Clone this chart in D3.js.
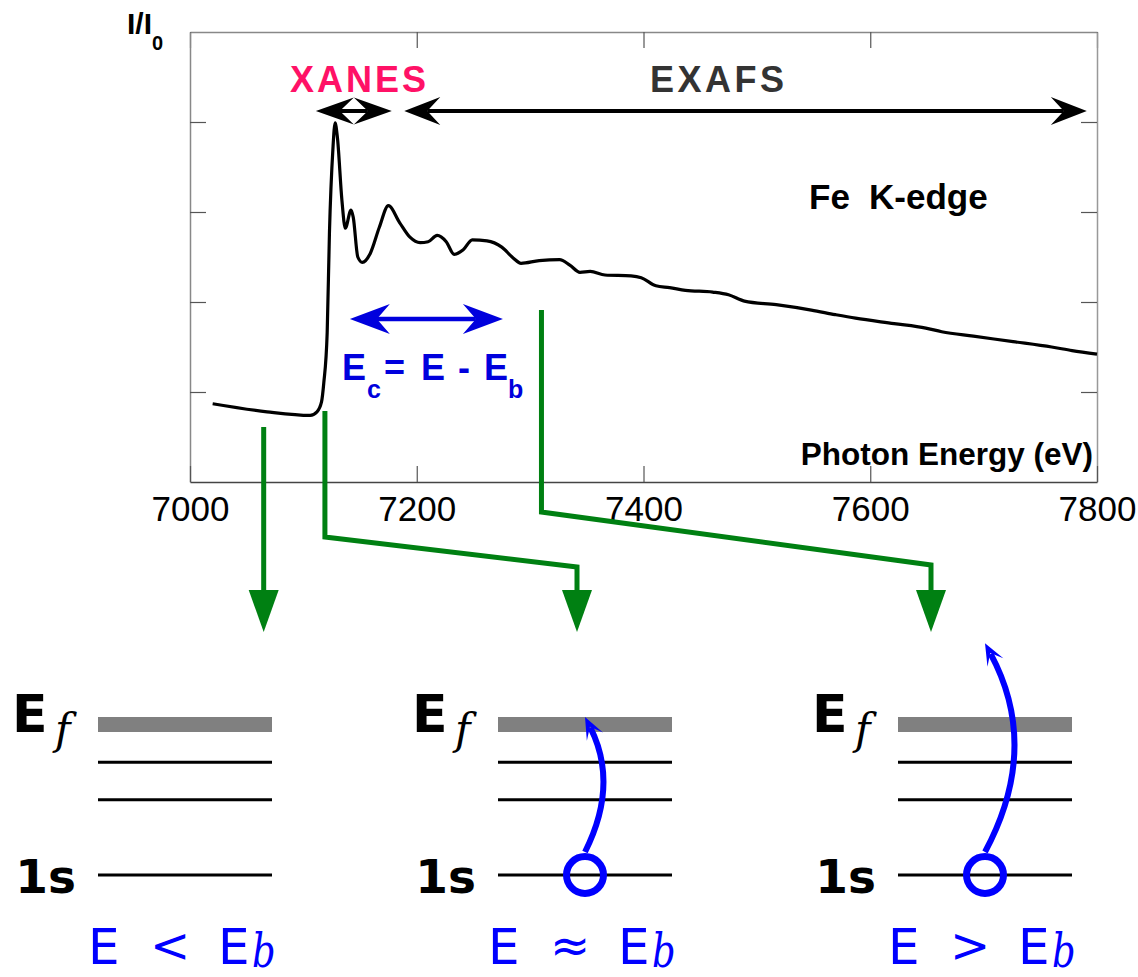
<!DOCTYPE html>
<html>
<head>
<meta charset="utf-8">
<script src="https://cdn.jsdelivr.net/npm/d3@7"></script>
<style>
  body { margin: 0; background: #fff; }
  svg { display: block; }
</style>
</head>
<body>
<script>
// Fe K-edge absorption spectrum
const energy = [7020,7068,7106,7112,7116,7118,7121,7123,7126,7128,7130,7134,7137,7142,7144,
  7148,7152,7159,7167,7175,7185,7194,7203,7210,7218,7226,7233,7241,7249,7262,
  7275,7285,7292,7308,7326,7335,7344,7353,7366,7389,7398,7411,7423,7437,7461,
  7475,7489,7517,7548,7569,7587,7621,7649,7663,7691,7726,7760,7778,7800];
const intensity = [0.87,0.78,0.74,0.78,0.89,1.10,1.66,2.77,3.69,3.99,3.83,3.13,2.82,3.02,2.94,
  2.50,2.44,2.54,2.83,3.07,2.88,2.72,2.66,2.67,2.74,2.67,2.53,2.58,2.69,2.68,
  2.61,2.49,2.43,2.46,2.47,2.41,2.33,2.34,2.30,2.29,2.27,2.18,2.16,2.13,2.11,
  2.08,2.01,1.97,1.91,1.86,1.82,1.76,1.71,1.67,1.62,1.56,1.50,1.46,1.42];
const xTicks = [7000, 7200, 7400, 7600, 7800];
const yTicks = [1, 2, 3, 4];

// annotation ranges (eV)
const xanesRange = [7111, 7178];
const exafsRange = [7189, 7791];
const ecRange = [7141, 7276];
const markEnergy = [7065, 7119, 7310];

// energy level diagrams (relative level energy, 1 = E_f)
const levels = [0, 0.5, 0.75, 1];
const relations = ["<", "\u2248", ">"];
const exciteTo = [null, 1.05, 1.54];

const W = 1138, H = 977;
const blue = "#0000ff", green = "#008012";
const sans = "'Liberation Sans', Arial, sans-serif";
const serif = "'DejaVu Serif', 'Liberation Serif', serif";

const svg = d3.select("body").append("svg")
  .attr("width", W).attr("height", H);

const x = d3.scaleLinear().domain([7000, 7800]).range([190, 1097]);
const y = d3.scaleLinear().domain([0, 5]).range([482, 32]);

// frame + ticks
function styleAxis(g, col) {
  g.select(".domain").attr("stroke", col).attr("stroke-width", 1.5);
  g.selectAll(".tick line").attr("stroke", "#555").attr("stroke-width", 1.2);
}
svg.append("g").attr("transform", "translate(0,32)")
  .call(d3.axisTop(x).tickValues(xTicks).tickSizeInner(-16).tickSizeOuter(0).tickFormat(""))
  .call(g => styleAxis(g, "#888"));
svg.append("g").attr("transform", "translate(190,0)")
  .call(d3.axisLeft(y).tickValues(yTicks).tickSizeInner(-16).tickSizeOuter(0).tickFormat(""))
  .call(g => styleAxis(g, "#888"));
svg.append("g").attr("transform", "translate(1097,0)")
  .call(d3.axisRight(y).tickValues(yTicks).tickSizeInner(-16).tickSizeOuter(0).tickFormat(""))
  .call(g => styleAxis(g, "#999"));
let xAxis = svg.append("g").attr("transform", "translate(0,482)")
  .call(d3.axisBottom(x).tickValues(xTicks).tickSizeInner(-16).tickSizeOuter(0).tickPadding(14).tickFormat(d3.format("d")))
  .call(g => styleAxis(g, "#444"));
xAxis.selectAll("text").attr("font-family", sans).attr("font-size", 35).attr("fill", "#000");

// axis titles
let yl = svg.append("text").attr("x", 127).attr("y", 34)
  .attr("font-family", sans).attr("font-weight", "bold").attr("font-size", 30);
yl.append("tspan").text("I/I");
yl.append("tspan").attr("font-size", 20).attr("dy", 16).text("0");

svg.append("text").attr("x", 1093).attr("y", 465).attr("text-anchor", "end")
  .attr("font-family", sans).attr("font-weight", "bold").attr("font-size", 31.5)
  .text("Photon Energy (eV)");

let fe = svg.append("text").attr("y", 209)
  .attr("font-family", sans).attr("font-weight", "bold").attr("font-size", 35);
fe.append("tspan").attr("x", 809).text("Fe");
fe.append("tspan").attr("x", 869).text("K-edge");

// spectrum
let line = d3.line()
  .x((d, i) => x(energy[i]))
  .y(d => y(d))
  .curve(d3.curveMonotoneX);
svg.append("path").datum(intensity)
  .attr("d", line)
  .attr("fill", "none")
  .attr("stroke", "#000")
  .attr("stroke-width", 3.2)
  .attr("stroke-linejoin", "round");

// arrow helpers
function head(tip, dir, L, Wd, N, color) {
  let tx = tip[0], ty = tip[1], dx = dir[0], dy = dir[1];
  let nx = -dy, ny = dx;
  let pts = [[tx, ty],
    [tx - L * dx + Wd * nx, ty - L * dy + Wd * ny],
    [tx - N * dx, ty - N * dy],
    [tx - L * dx - Wd * nx, ty - L * dy - Wd * ny]];
  svg.append("path").attr("d", "M" + pts.join("L") + "Z").attr("fill", color);
}
function dblArrow(x1, x2, yy, lw, L, Wd, N, color) {
  svg.append("line")
    .attr("x1", x1 + N).attr("x2", x2 - N).attr("y1", yy).attr("y2", yy)
    .attr("stroke", color).attr("stroke-width", lw);
  head([x1, yy], [-1, 0], L, Wd, N, color);
  head([x2, yy], [1, 0], L, Wd, N, color);
}

dblArrow(x(xanesRange[0]), x(xanesRange[1]), 111, 4, 38, 13.5, 24, "#000");
dblArrow(x(exafsRange[0]), x(exafsRange[1]), 111, 4, 36, 14, 23, "#000");
dblArrow(x(ecRange[0]), x(ecRange[1]), 319, 4.5, 40, 15, 27, "#0000dd");

svg.append("text").attr("x", 290).attr("y", 92)
  .attr("font-family", sans).attr("font-weight", "bold").attr("font-size", 36)
  .attr("letter-spacing", 3).attr("fill", "#ff1166").text("XANES");
svg.append("text").attr("x", 650).attr("y", 92)
  .attr("font-family", sans).attr("font-weight", "bold").attr("font-size", 36)
  .attr("letter-spacing", 3.5).attr("fill", "#333").text("EXAFS");

// E_c = E - E_b
let ec = svg.append("text").attr("y", 380)
  .attr("font-family", sans).attr("font-weight", "bold").attr("font-size", 36).attr("fill", "#0000dd");
ec.append("tspan").attr("x", 342).text("E");
ec.append("tspan").attr("x", 367).attr("y", 398).attr("font-size", 25).text("c");
ec.append("tspan").attr("x", 384).attr("y", 380).text("=");
ec.append("tspan").attr("x", 421).text("E");
ec.append("tspan").attr("x", 458).text("-");
ec.append("tspan").attr("x", 484).text("E");
ec.append("tspan").attr("x", 508).attr("y", 398).attr("font-size", 25).text("b");

// green connectors from the spectrum down to the diagrams
const connectors = [
  [[x(markEnergy[0]), 427], [x(markEnergy[0]), 600]],
  [[x(markEnergy[1]), 411], [x(markEnergy[1]), 537], [577, 567], [577, 600]],
  [[x(markEnergy[2]), 310], [x(markEnergy[2]), 512], [931, 565], [931, 600]]
];
connectors.forEach(pts => {
  svg.append("path").attr("d", d3.line()(pts))
    .attr("fill", "none").attr("stroke", green).attr("stroke-width", 5);
  let last = pts[pts.length - 1];
  head([last[0], 632], [0, 1], 42, 15, 42, green);
});

// energy level diagrams
const ly = d3.scaleLinear().domain([0, 1]).range([875, 724.5]);
relations.forEach((rel, k) => {
  let p = k * 400;
  let g = svg.append("g");
  levels.forEach(l => {
    g.append("line").attr("x1", p + 98).attr("x2", p + 272)
      .attr("y1", ly(l)).attr("y2", ly(l))
      .attr("stroke", l === 1 ? "#808080" : "#000")
      .attr("stroke-width", l === 1 ? 15 : 3);
  });
  g.append("text").attr("x", p + 12).attr("y", 732)
    .attr("font-family", "'DejaVu Sans', sans-serif").attr("font-weight", "bold")
    .attr("font-size", 52).text("E");
  g.append("text").attr("x", p + 55).attr("y", 744)
    .attr("font-family", serif).attr("font-style", "italic")
    .attr("font-size", 42).text("f");
  g.append("text").attr("x", p + 76).attr("y", 893).attr("text-anchor", "end")
    .attr("font-family", "'DejaVu Sans', sans-serif").attr("font-weight", "bold")
    .attr("font-size", 47).text("1s");

  // blue relation label
  g.append("text").attr("x", p + 88).attr("y", 964)
    .attr("font-family", "'DejaVu Sans', sans-serif").attr("font-size", 50)
    .attr("fill", blue).text("E");
  g.append("text").attr("x", p + 170).attr("y", 962).attr("text-anchor", "middle")
    .attr("font-family", "'DejaVu Sans', sans-serif").attr("font-size", 48)
    .attr("fill", blue).text(rel);
  g.append("text").attr("x", p + 218).attr("y", 964)
    .attr("font-family", "'DejaVu Sans', sans-serif").attr("font-size", 50)
    .attr("fill", blue).text("E");
  g.append("text").attr("transform", `translate(${p + 252},967) scale(0.8,1)`)
    .attr("font-family", serif).attr("font-style", "italic")
    .attr("font-size", 46).attr("fill", blue).text("b");

  // excitation
  if (exciteTo[k] !== null) {
    let cx = p + 185;
    g.append("circle").attr("cx", cx).attr("cy", ly(0)).attr("r", 18.5)
      .attr("fill", "none").attr("stroke", blue).attr("stroke-width", 7);
    let s = [cx, ly(0) - 23];
    let t = [cx, ly(exciteTo[k])];
    let c = [cx + (k === 1 ? 34 : 56), (s[1] + t[1]) / 2];
    let dx = t[0] - c[0], dy = t[1] - c[1], len = Math.hypot(dx, dy);
    let d = [dx / len, dy / len];
    let e = [t[0] - 12 * d[0], t[1] - 12 * d[1]];
    g.append("path").attr("d", `M${s}Q${c} ${e}`)
      .attr("fill", "none").attr("stroke", blue).attr("stroke-width", 6);
    head(t, d, 22, 9, 11, blue);
  }
});
</script>
</body>
</html>
